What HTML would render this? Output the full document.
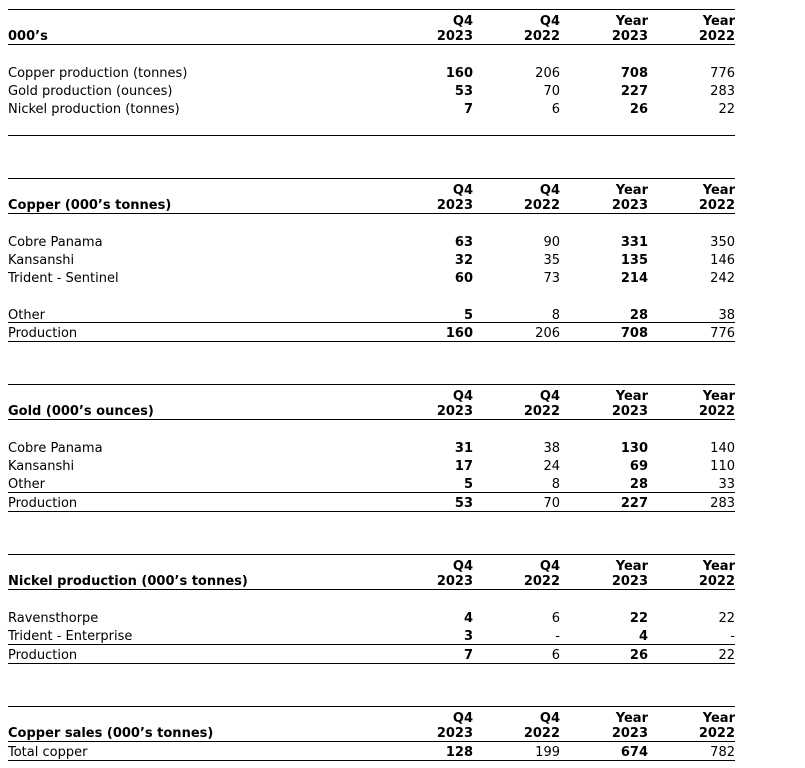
<!DOCTYPE html>
<html>
<head>
<meta charset="utf-8">
<style>
html,body{margin:0;padding:0;background:#fff;}
body{width:805px;height:768px;position:relative;overflow:hidden;}
.t{position:absolute;line-height:18px;font-size:13px;font-family:"DejaVu Sans",Verdana,"Liberation Sans",sans-serif;color:#000;white-space:nowrap;}
.l{left:8px;}
.c1{right:332px;text-align:right;}
.c2{right:245px;text-align:right;}
.c3{right:157px;text-align:right;}
.c4{right:70px;text-align:right;}
.b{font-weight:bold;}
.hr{position:absolute;left:8px;width:727px;height:1px;background:#000;}
</style>
</head>
<body>

<!-- Table 1 -->
<div class="hr" style="top:9px"></div>
<div class="t b c1" style="top:13px">Q4</div>
<div class="t b c2" style="top:13px">Q4</div>
<div class="t b c3" style="top:13px">Year</div>
<div class="t b c4" style="top:13px">Year</div>
<div class="t b l" style="top:28px">000’s</div>
<div class="t b c1" style="top:28px">2023</div>
<div class="t b c2" style="top:28px">2022</div>
<div class="t b c3" style="top:28px">2023</div>
<div class="t b c4" style="top:28px">2022</div>
<div class="hr" style="top:44px"></div>

<div class="t l" style="top:65px">Copper production (tonnes)</div>
<div class="t b c1" style="top:65px">160</div>
<div class="t c2" style="top:65px">206</div>
<div class="t b c3" style="top:65px">708</div>
<div class="t c4" style="top:65px">776</div>

<div class="t l" style="top:83px">Gold production (ounces)</div>
<div class="t b c1" style="top:83px">53</div>
<div class="t c2" style="top:83px">70</div>
<div class="t b c3" style="top:83px">227</div>
<div class="t c4" style="top:83px">283</div>

<div class="t l" style="top:101px">Nickel production (tonnes)</div>
<div class="t b c1" style="top:101px">7</div>
<div class="t c2" style="top:101px">6</div>
<div class="t b c3" style="top:101px">26</div>
<div class="t c4" style="top:101px">22</div>
<div class="hr" style="top:135px"></div>

<!-- Table 2 -->
<div class="hr" style="top:178px"></div>
<div class="t b c1" style="top:182px">Q4</div>
<div class="t b c2" style="top:182px">Q4</div>
<div class="t b c3" style="top:182px">Year</div>
<div class="t b c4" style="top:182px">Year</div>
<div class="t b l" style="top:197px">Copper (000’s tonnes)</div>
<div class="t b c1" style="top:197px">2023</div>
<div class="t b c2" style="top:197px">2022</div>
<div class="t b c3" style="top:197px">2023</div>
<div class="t b c4" style="top:197px">2022</div>
<div class="hr" style="top:213px"></div>

<div class="t l" style="top:234px">Cobre Panama</div>
<div class="t b c1" style="top:234px">63</div>
<div class="t c2" style="top:234px">90</div>
<div class="t b c3" style="top:234px">331</div>
<div class="t c4" style="top:234px">350</div>

<div class="t l" style="top:252px">Kansanshi</div>
<div class="t b c1" style="top:252px">32</div>
<div class="t c2" style="top:252px">35</div>
<div class="t b c3" style="top:252px">135</div>
<div class="t c4" style="top:252px">146</div>

<div class="t l" style="top:270px">Trident - Sentinel</div>
<div class="t b c1" style="top:270px">60</div>
<div class="t c2" style="top:270px">73</div>
<div class="t b c3" style="top:270px">214</div>
<div class="t c4" style="top:270px">242</div>

<div class="t l" style="top:307px">Other</div>
<div class="t b c1" style="top:307px">5</div>
<div class="t c2" style="top:307px">8</div>
<div class="t b c3" style="top:307px">28</div>
<div class="t c4" style="top:307px">38</div>
<div class="hr" style="top:322px"></div>

<div class="t l" style="top:325px">Production</div>
<div class="t b c1" style="top:325px">160</div>
<div class="t c2" style="top:325px">206</div>
<div class="t b c3" style="top:325px">708</div>
<div class="t c4" style="top:325px">776</div>
<div class="hr" style="top:341px"></div>

<!-- Table 3 -->
<div class="hr" style="top:384px"></div>
<div class="t b c1" style="top:388px">Q4</div>
<div class="t b c2" style="top:388px">Q4</div>
<div class="t b c3" style="top:388px">Year</div>
<div class="t b c4" style="top:388px">Year</div>
<div class="t b l" style="top:403px">Gold (000’s ounces)</div>
<div class="t b c1" style="top:403px">2023</div>
<div class="t b c2" style="top:403px">2022</div>
<div class="t b c3" style="top:403px">2023</div>
<div class="t b c4" style="top:403px">2022</div>
<div class="hr" style="top:419px"></div>

<div class="t l" style="top:440px">Cobre Panama</div>
<div class="t b c1" style="top:440px">31</div>
<div class="t c2" style="top:440px">38</div>
<div class="t b c3" style="top:440px">130</div>
<div class="t c4" style="top:440px">140</div>

<div class="t l" style="top:458px">Kansanshi</div>
<div class="t b c1" style="top:458px">17</div>
<div class="t c2" style="top:458px">24</div>
<div class="t b c3" style="top:458px">69</div>
<div class="t c4" style="top:458px">110</div>

<div class="t l" style="top:476px">Other</div>
<div class="t b c1" style="top:476px">5</div>
<div class="t c2" style="top:476px">8</div>
<div class="t b c3" style="top:476px">28</div>
<div class="t c4" style="top:476px">33</div>
<div class="hr" style="top:492px"></div>

<div class="t l" style="top:495px">Production</div>
<div class="t b c1" style="top:495px">53</div>
<div class="t c2" style="top:495px">70</div>
<div class="t b c3" style="top:495px">227</div>
<div class="t c4" style="top:495px">283</div>
<div class="hr" style="top:511px"></div>

<!-- Table 4 -->
<div class="hr" style="top:554px"></div>
<div class="t b c1" style="top:558px">Q4</div>
<div class="t b c2" style="top:558px">Q4</div>
<div class="t b c3" style="top:558px">Year</div>
<div class="t b c4" style="top:558px">Year</div>
<div class="t b l" style="top:573px">Nickel production (000’s tonnes)</div>
<div class="t b c1" style="top:573px">2023</div>
<div class="t b c2" style="top:573px">2022</div>
<div class="t b c3" style="top:573px">2023</div>
<div class="t b c4" style="top:573px">2022</div>
<div class="hr" style="top:589px"></div>

<div class="t l" style="top:610px">Ravensthorpe</div>
<div class="t b c1" style="top:610px">4</div>
<div class="t c2" style="top:610px">6</div>
<div class="t b c3" style="top:610px">22</div>
<div class="t c4" style="top:610px">22</div>

<div class="t l" style="top:628px">Trident - Enterprise</div>
<div class="t b c1" style="top:628px">3</div>
<div class="t c2" style="top:628px">-</div>
<div class="t b c3" style="top:628px">4</div>
<div class="t c4" style="top:628px">-</div>
<div class="hr" style="top:644px"></div>

<div class="t l" style="top:647px">Production</div>
<div class="t b c1" style="top:647px">7</div>
<div class="t c2" style="top:647px">6</div>
<div class="t b c3" style="top:647px">26</div>
<div class="t c4" style="top:647px">22</div>
<div class="hr" style="top:663px"></div>

<!-- Table 5 -->
<div class="hr" style="top:706px"></div>
<div class="t b c1" style="top:710px">Q4</div>
<div class="t b c2" style="top:710px">Q4</div>
<div class="t b c3" style="top:710px">Year</div>
<div class="t b c4" style="top:710px">Year</div>
<div class="t b l" style="top:725px">Copper sales (000’s tonnes)</div>
<div class="t b c1" style="top:725px">2023</div>
<div class="t b c2" style="top:725px">2022</div>
<div class="t b c3" style="top:725px">2023</div>
<div class="t b c4" style="top:725px">2022</div>
<div class="hr" style="top:741px"></div>

<div class="t l" style="top:744px">Total copper</div>
<div class="t b c1" style="top:744px">128</div>
<div class="t c2" style="top:744px">199</div>
<div class="t b c3" style="top:744px">674</div>
<div class="t c4" style="top:744px">782</div>
<div class="hr" style="top:760px"></div>

</body>
</html>
